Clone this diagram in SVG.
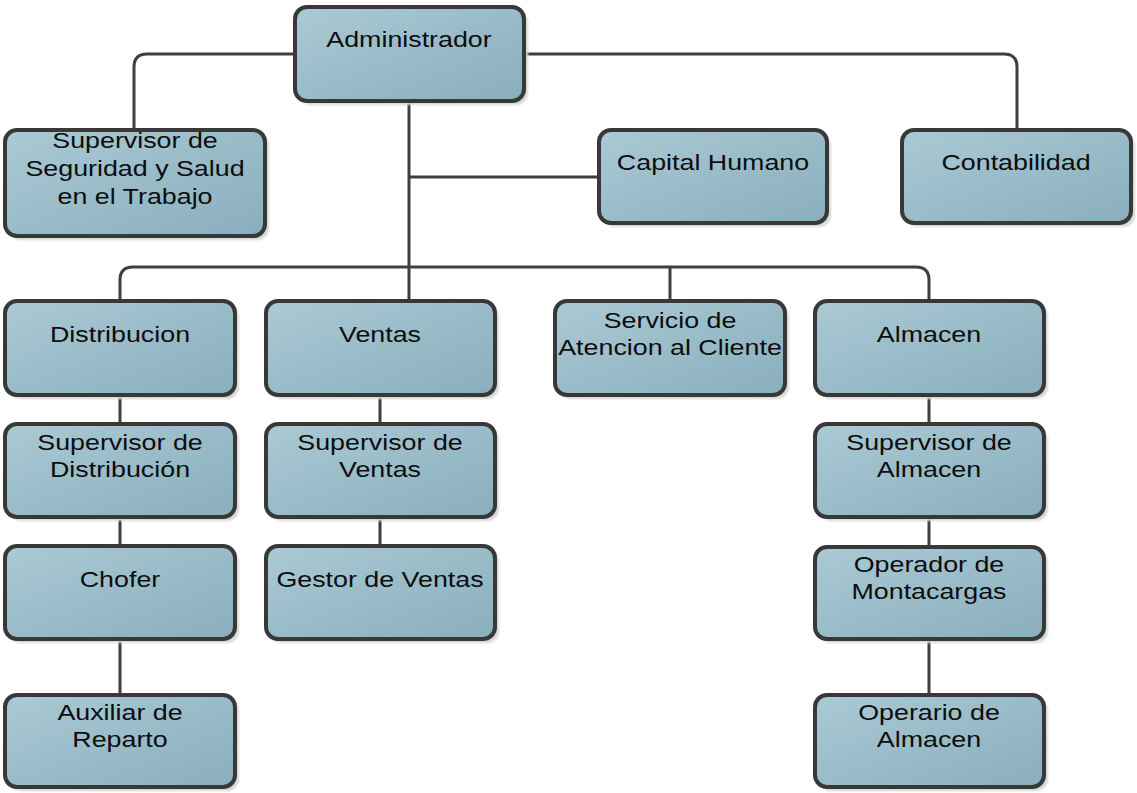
<svg xmlns="http://www.w3.org/2000/svg" width="1137" height="793" viewBox="0 0 1137 793">
<style>
.box{fill:url(#g);stroke:#383838;stroke-width:4}
.sh{fill:#d6d6d6;filter:url(#b)}
.t{font-family:"Liberation Sans",Arial,sans-serif;font-size:22px;fill:#0d0d0d;text-anchor:middle}
.c{fill:none;stroke:#3e3e3e;stroke-width:3}
</style>
<defs>
<linearGradient id="g" x1="0" y1="0" x2="1" y2="1">
<stop offset="0" stop-color="#aacad4"/>
<stop offset="1" stop-color="#89aebd"/>
</linearGradient>
<filter id="b" x="-5%" y="-5%" width="110%" height="110%"><feGaussianBlur stdDeviation="1.2"/></filter>
</defs>
<rect width="1137" height="793" fill="#fff"/>
<g id="connectors">
<path class="c" d="M293,54 H147 Q134,54 134,67 V128"/>
<path class="c" d="M526,54 H1004 Q1017,54 1017,67 V128"/>
<path class="c" d="M409,101 V299"/>
<path class="c" d="M409,177 H597"/>
<path class="c" d="M120,299 V280 Q120,267 133,267 H916 Q929,267 929,280 V299"/>
<path class="c" d="M670,267 V299"/>
<path class="c" d="M120,395 V423 M380,395 V423 M929,395 V423"/>
<path class="c" d="M120,517 V545 M380,517 V545 M929,517 V545"/>
<path class="c" d="M120,639 V693 M929,639 V693"/>
</g>
<g id="n-administrador"><rect class="sh" x="299" y="11" width="229" height="94" rx="12"/><rect class="box" x="295" y="7" width="229" height="94" rx="12"/><text class="t" transform="translate(409,47) scale(1.22,1)">Administrador</text></g>
<g id="n-seguridad"><rect class="sh" x="9" y="134" width="260" height="106" rx="12"/><rect class="box" x="5" y="130" width="260" height="106" rx="12"/><text class="t" transform="translate(135,148) scale(1.22,1)"><tspan x="0" y="0">Supervisor de</tspan><tspan x="0" y="28">Seguridad y Salud</tspan><tspan x="0" y="56">en el Trabajo</tspan></text></g>
<g id="n-capital"><rect class="sh" x="603" y="134" width="228" height="93" rx="12"/><rect class="box" x="599" y="130" width="228" height="93" rx="12"/><text class="t" transform="translate(713,170) scale(1.22,1)">Capital Humano</text></g>
<g id="n-contabilidad"><rect class="sh" x="906" y="134" width="229" height="93" rx="12"/><rect class="box" x="902" y="130" width="229" height="93" rx="12"/><text class="t" transform="translate(1016,170) scale(1.22,1)">Contabilidad</text></g>
<g id="n-distribucion"><rect class="sh" x="9" y="305" width="230" height="94" rx="12"/><rect class="box" x="5" y="301" width="230" height="94" rx="12"/><text class="t" transform="translate(120,342) scale(1.22,1)">Distribucion</text></g>
<g id="n-ventas"><rect class="sh" x="270" y="305" width="229" height="94" rx="12"/><rect class="box" x="266" y="301" width="229" height="94" rx="12"/><text class="t" transform="translate(380,342) scale(1.22,1)">Ventas</text></g>
<g id="n-servicio"><rect class="sh" x="559" y="305" width="230" height="94" rx="12"/><rect class="box" x="555" y="301" width="230" height="94" rx="12"/><text class="t" transform="translate(670,328) scale(1.22,1)"><tspan x="0" y="0">Servicio de</tspan><tspan x="0" y="27">Atencion al Cliente</tspan></text></g>
<g id="n-almacen"><rect class="sh" x="819" y="305" width="229" height="94" rx="12"/><rect class="box" x="815" y="301" width="229" height="94" rx="12"/><text class="t" transform="translate(929,342) scale(1.22,1)">Almacen</text></g>
<g id="n-sup-distribucion"><rect class="sh" x="9" y="428" width="230" height="93" rx="12"/><rect class="box" x="5" y="424" width="230" height="93" rx="12"/><text class="t" transform="translate(120,450) scale(1.22,1)"><tspan x="0" y="0">Supervisor de</tspan><tspan x="0" y="27">Distribución</tspan></text></g>
<g id="n-sup-ventas"><rect class="sh" x="270" y="428" width="229" height="93" rx="12"/><rect class="box" x="266" y="424" width="229" height="93" rx="12"/><text class="t" transform="translate(380,450) scale(1.22,1)"><tspan x="0" y="0">Supervisor de</tspan><tspan x="0" y="27">Ventas</tspan></text></g>
<g id="n-sup-almacen"><rect class="sh" x="819" y="428" width="229" height="93" rx="12"/><rect class="box" x="815" y="424" width="229" height="93" rx="12"/><text class="t" transform="translate(929,450) scale(1.22,1)"><tspan x="0" y="0">Supervisor de</tspan><tspan x="0" y="27">Almacen</tspan></text></g>
<g id="n-chofer"><rect class="sh" x="9" y="550" width="230" height="93" rx="12"/><rect class="box" x="5" y="546" width="230" height="93" rx="12"/><text class="t" transform="translate(120,587) scale(1.22,1)">Chofer</text></g>
<g id="n-gestor"><rect class="sh" x="270" y="550" width="229" height="93" rx="12"/><rect class="box" x="266" y="546" width="229" height="93" rx="12"/><text class="t" transform="translate(380,587) scale(1.22,1)">Gestor de Ventas</text></g>
<g id="n-operador"><rect class="sh" x="819" y="551" width="229" height="92" rx="12"/><rect class="box" x="815" y="547" width="229" height="92" rx="12"/><text class="t" transform="translate(929,572) scale(1.22,1)"><tspan x="0" y="0">Operador de</tspan><tspan x="0" y="27">Montacargas</tspan></text></g>
<g id="n-auxiliar"><rect class="sh" x="9" y="699" width="230" height="92" rx="12"/><rect class="box" x="5" y="695" width="230" height="92" rx="12"/><text class="t" transform="translate(120,720) scale(1.22,1)"><tspan x="0" y="0">Auxiliar de</tspan><tspan x="0" y="27">Reparto</tspan></text></g>
<g id="n-operario"><rect class="sh" x="819" y="699" width="229" height="92" rx="12"/><rect class="box" x="815" y="695" width="229" height="92" rx="12"/><text class="t" transform="translate(929,720) scale(1.22,1)"><tspan x="0" y="0">Operario de</tspan><tspan x="0" y="27">Almacen</tspan></text></g>
</svg>
